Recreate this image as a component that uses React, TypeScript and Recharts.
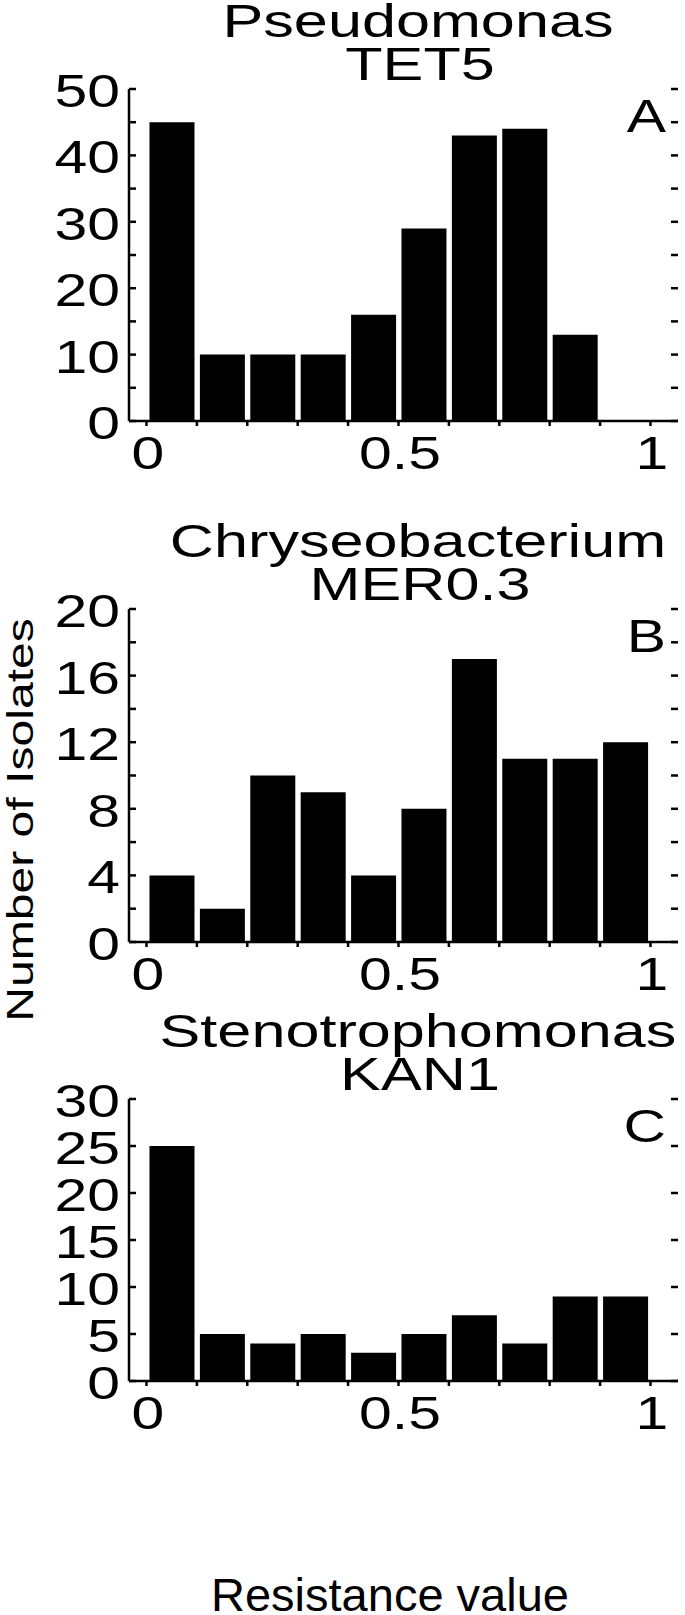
import { BarChart, Bar, XAxis, YAxis } from 'recharts';

const bins = [0.05, 0.15, 0.25, 0.35, 0.45, 0.55, 0.65, 0.75, 0.85, 0.95];
const xTicks = [0, 0.1, 0.2, 0.3, 0.4, 0.5, 0.6, 0.7, 0.8, 0.9, 1];
const xTickLabels = [0, 0.5, 1];

const pseudomonasTet5 = [45, 10, 10, 10, 16, 29, 43, 44, 13, 0];
const chryseoMer03 = [4, 2, 10, 9, 4, 8, 17, 11, 11, 12];
const stenoKan1 = [25, 5, 4, 5, 3, 5, 7, 4, 9, 9];

const ticksA = [0, 5, 10, 15, 20, 25, 30, 35, 40, 45, 50];
const labelsA = [0, 10, 20, 30, 40, 50];
const ticksB = [0, 2, 4, 6, 8, 10, 12, 14, 16, 18, 20];
const labelsB = [0, 4, 8, 12, 16, 20];
const ticksC = [0, 5, 10, 15, 20, 25, 30];
const labelsC = [0, 5, 10, 15, 20, 25, 30];

const FONT = '"Liberation Sans", Arial, sans-serif';
const CHART_W = 685;
const AXIS_W = 129;
const MARGIN_R = 7;
const PLOT_W = CHART_W - AXIS_W - MARGIN_R;
const line = { stroke: '#000', strokeWidth: 2.5 };

// the original figure's font is wide, so text is stretched horizontally
function WideText({ x, y, anchor = 'middle', size = 46, stretch = 1.28, children }: any) {
  return (
    <text
      transform={`translate(${x},${y}) scale(${stretch},1)`}
      textAnchor={anchor}
      fontFamily={FONT}
      fontSize={size}
      fill="#000"
    >
      {children}
    </text>
  );
}

function XTick({ x, y, payload }: any) {
  if (!xTickLabels.includes(payload.value)) return <g />;
  return <WideText x={x + 1.5} y={y + 43}>{payload.value}</WideText>;
}

function makeYTick(labels: number[]) {
  return function YTick({ x, y, payload }: any) {
    const v = payload.value;
    return (
      <g>
        <line x1={x} x2={x + 7} y1={y} y2={y} {...line} />
        <line x1={x + PLOT_W - 7} x2={x + PLOT_W} y1={y} y2={y} {...line} />
        {labels.includes(v) && (
          <WideText x={x - 9} y={y + 18} anchor="end">{v}</WideText>
        )}
      </g>
    );
  };
}

interface PanelProps {
  top: number;
  height: number;
  plotHeight: number;
  values: number[];
  yMax: number;
  yTicks: number[];
  yLabels: number[];
  letter: string;
  title1: string;
  title2: string;
}

function Panel({ top, height, plotHeight, values, yMax, yTicks, yLabels, letter, title1, title2 }: PanelProps) {
  const data = bins.map((b, i) => ({ bin: b, count: values[i] }));
  const plotTop = 89;
  return (
    <div style={{ position: 'absolute', left: 0, top, width: CHART_W, height }}>
      <BarChart
        width={CHART_W}
        height={height}
        data={data}
        margin={{ top: plotTop, right: MARGIN_R, bottom: height - plotTop - plotHeight - 50, left: 0 }}
      >
        <XAxis
          dataKey="bin"
          type="number"
          domain={[-0.0347, 1.0546]}
          allowDataOverflow
          ticks={xTicks}
          interval={0}
          height={50}
          tickSize={5}
          tickMargin={0}
          axisLine={line}
          tickLine={line}
          tick={<XTick />}
        />
        <XAxis xAxisId="top" orientation="top" type="number" domain={[0, 1]} height={0} tick={false} tickLine={false} axisLine={line} />
        <YAxis
          type="number"
          domain={[0, yMax]}
          ticks={yTicks}
          interval={0}
          width={AXIS_W}
          tickSize={0}
          tickMargin={0}
          tickLine={false}
          axisLine={line}
          tick={makeYTick(yLabels)}
        />
        <YAxis yAxisId="right" orientation="right" width={0} tick={false} tickLine={false} axisLine={line} />
        <Bar dataKey="count" fill="#000" barSize={45} isAnimationActive={false} />
      </BarChart>
      <svg width={CHART_W} height={height} style={{ position: 'absolute', left: 0, top: 0, pointerEvents: 'none' }}>
        <WideText x={418} y={plotTop - 52} stretch={1.33}>{title1}</WideText>
        <WideText x={420} y={plotTop - 9} stretch={1.33}>{title2}</WideText>
        <WideText x={666} y={plotTop + 43} anchor="end">{letter}</WideText>
      </svg>
    </div>
  );
}

export default function App() {
  return (
    <div style={{ position: 'absolute', left: 0, top: 0, width: 685, height: 1615, background: '#fff', overflow: 'hidden' }}>
      <Panel top={0} height={480} plotHeight={332} values={pseudomonasTet5} yMax={50} yTicks={ticksA} yLabels={labelsA}
        letter="A" title1="Pseudomonas" title2="TET5" />
      <Panel top={520} height={480} plotHeight={333} values={chryseoMer03} yMax={20} yTicks={ticksB} yLabels={labelsB}
        letter="B" title1="Chryseobacterium" title2="MER0.3" />
      <Panel top={1010} height={430} plotHeight={282} values={stenoKan1} yMax={30} yTicks={ticksC} yLabels={labelsC}
        letter="C" title1="Stenotrophomonas" title2="KAN1" />
      <svg width={685} height={1615} style={{ position: 'absolute', left: 0, top: 0, pointerEvents: 'none' }}>
        <text
          transform={`translate(33,820) rotate(-90) scale(1.3,1)`}
          textAnchor="middle"
          fontFamily={FONT}
          fontSize={37}
          fill="#000"
        >
          Number of Isolates
        </text>
        <text x={390} y={1611} textAnchor="middle" fontFamily={FONT} fontSize={47} fill="#000">
          Resistance value
        </text>
      </svg>
    </div>
  );
}
